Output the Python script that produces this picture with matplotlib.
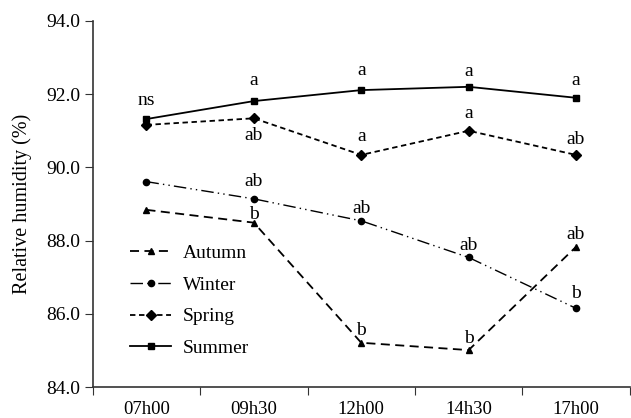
import matplotlib
matplotlib.use("Agg")
import matplotlib.pyplot as plt

times = ["07h00", "09h30", "12h00", "14h30", "17h00"]
autumn = [88.84, 88.49, 85.21, 85.01, 87.83]
winter = [89.61, 89.14, 88.54, 87.54, 86.15]
spring = [91.16, 91.34, 90.34, 91.00, 90.34]
summer = [91.32, 91.81, 92.11, 92.20, 91.90]

# significance letters: (series, index, text, baseline offset in points)
letters = [
    (summer, 0, "ns", 10.4), (summer, 1, "a", 11.9), (summer, 2, "a", 11.2),
    (summer, 3, "a", 7.8), (summer, 4, "a", 9.0),
    (spring, 1, "ab", -15.7), (spring, 2, "a", 9.7), (spring, 3, "a", 9.5),
    (spring, 4, "ab", 7.6),
    (winter, 1, "ab", 9.5), (winter, 2, "ab", 5.7), (winter, 3, "ab", 5.2),
    (winter, 4, "b", 7.1),
    (autumn, 1, "b", 2.3), (autumn, 2, "b", 5.7), (autumn, 3, "b", 5.2),
    (autumn, 4, "ab", 5.9),
]

plt.rcParams["font.family"] = ["Liberation Serif", "DejaVu Serif"]
plt.rcParams["font.size"] = 14

fig = plt.figure(figsize=(6.31, 4.18), dpi=100)
ax = fig.add_axes([0.147, 0.074, 0.851, 0.876])

x = range(len(times))
ax.plot(x, autumn, color="black", lw=1.3, dashes=(5, 3), marker="^", ms=5, label="Autumn")
ax.plot(x, winter, color="black", lw=1.0, dashes=(9, 3, 1, 3, 1, 3), marker="o", ms=4.5, label="Winter")
ax.plot(x, spring, color="black", lw=1.3, dashes=(3, 2), marker="D", ms=5.5, label="Spring")
ax.plot(x, summer, color="black", lw=1.3, marker="s", ms=5, label="Summer")

for series, i, txt, dy in letters:
    ax.annotate(txt, (i, series[i]), xytext=(0, dy), textcoords="offset points",
                ha="center", va="baseline", fontsize=14)

ax.set_xlim(-0.5, 4.5)
ax.set_ylim(84, 94)
ax.set_yticks([84, 86, 88, 90, 92, 94])
ax.set_yticklabels([f"{v:.1f}" for v in [84, 86, 88, 90, 92, 94]], fontsize=14)
ax.set_xticks([i - 0.5 for i in range(len(times) + 1)])
ax.set_xticklabels([])
ax.set_xticks(list(x), minor=True)
ax.set_xticklabels(times, minor=True, fontsize=13.5)
ax.tick_params(axis="x", which="minor", length=0, pad=10)
ax.tick_params(axis="x", which="major", length=6, direction="out", color="#333333")
ax.tick_params(axis="y", length=6, direction="out", color="#333333", pad=3)
for s in ["top", "right"]:
    ax.spines[s].set_visible(False)
for s in ["left", "bottom"]:
    ax.spines[s].set_color("#333333")
    ax.spines[s].set_linewidth(1.2)

ax.set_ylabel("Relative humidity (%)", fontsize=14.5, labelpad=10)

ax.legend(loc="upper left", bbox_to_anchor=(0.07, 0.389), frameon=False,
          borderpad=0, borderaxespad=0, handlelength=2.1,
          labelspacing=0.72, fontsize=14, handletextpad=0.6)

fig.savefig("out.png", dpi=100)
